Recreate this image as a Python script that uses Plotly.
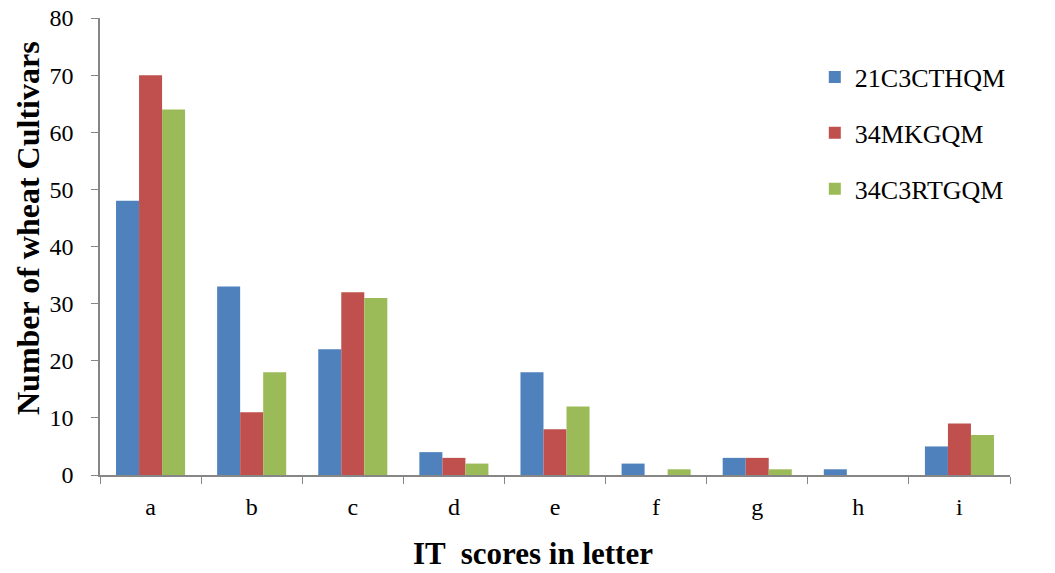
import plotly.graph_objects as go

categories = ["a", "b", "c", "d", "e", "f", "g", "h", "i"]
s1_name = "21C3CTHQM"
s2_name = "34MKGQM"
s3_name = "34C3RTGQM"
s1 = [48, 33, 22, 4, 18, 2, 3, 1, 5]
s2 = [70, 11, 32, 3, 8, 0, 3, 0, 9]
s3 = [64, 18, 31, 2, 12, 1, 1, 0, 7]
y_ticks = [0, 10, 20, 30, 40, 50, 60, 70, 80]
x_title = "IT  scores in letter"
y_title = "Number of wheat Cultivars"

colors = ["#4F81BD", "#C0504D", "#9BBB59"]
fig = go.Figure()
for i, (name, vals) in enumerate([(s1_name, s1), (s2_name, s2), (s3_name, s3)]):
    fig.add_trace(go.Bar(x=categories, y=vals, name=name, marker_color=colors[i],
                         marker_line_width=0, legendgroup=name))

W, H = 1055, 573
L, R, T, B = 100, 45, 18, 98
pw, ph = W - L - R, H - T - B

font_family = "Liberation Serif, Times New Roman, serif"
fig.update_layout(
    width=W, height=H,
    margin=dict(l=L, r=R, t=T, b=B),
    plot_bgcolor="white", paper_bgcolor="white",
    barmode="group", bargap=0.317, bargroupgap=0,
    font=dict(family=font_family, color="black"),
    legend=dict(x=0.7855, y=0.922, xanchor="left", yanchor="top",
                font=dict(size=26, family=font_family), tracegroupgap=19,
                itemwidth=30, bgcolor="rgba(0,0,0,0)"),
    xaxis=dict(
        automargin=False,
        showline=True, linecolor="#868686", linewidth=1.5,
        ticks="outside", tickson="boundaries", ticklen=7, tickcolor="#868686",
        tickfont=dict(size=24, family=font_family), ticklabelstandoff=9,
        ticklabeloverflow="allow",
    ),
    yaxis=dict(
        automargin=False,
        range=[0, 80], tickvals=y_ticks,
        showline=True, linecolor="#868686", linewidth=1.5,
        ticks="outside", ticklen=7, tickcolor="#868686",
        showgrid=False, zeroline=False,
        tickfont=dict(size=24, family=font_family), ticklabelstandoff=13,
        ticklabeloverflow="allow",
    ),
    annotations=[
        dict(text="<b>" + x_title + "</b>", xref="paper", yref="paper",
             x=(533 - L) / pw, y=-(553 - (T + ph)) / ph, xanchor="center", yanchor="middle",
             showarrow=False, font=dict(size=31, family=font_family)),
        dict(text="<b>" + y_title + "</b>", xref="paper", yref="paper",
             x=-(L - 28) / pw, y=(T + ph - 228) / ph, xanchor="center", yanchor="middle",
             textangle=-90, showarrow=False, font=dict(size=32, family=font_family)),
    ],
)
fig.write_html("out.html", config={"displayModeBar": False},
               post_script="document.body.style.margin='0';document.body.style.overflow='hidden';")
